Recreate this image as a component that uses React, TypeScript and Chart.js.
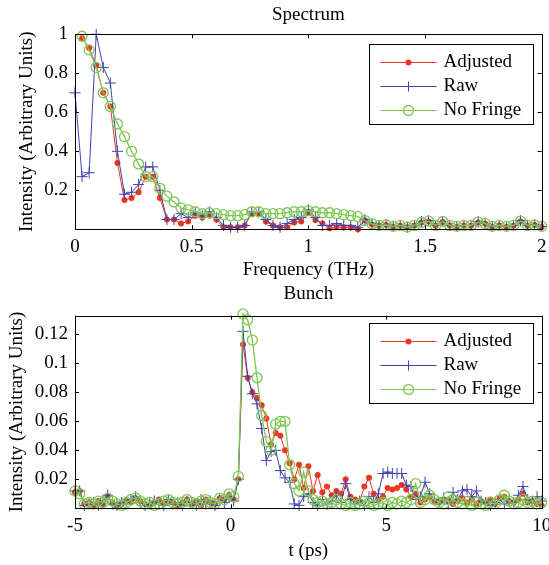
import { useEffect, useRef } from "react";
import { Chart, registerables } from "chart.js";

Chart.register(...registerables);

const SERIF = '"Liberation Serif", "Times New Roman", Times, serif';

const RED = "rgb(238,55,30)";
const BLUE = "rgb(65,65,175)";
const GREEN = "rgb(125,200,85)";

// ---------- Spectrum (frequency grid step in THz) ----------
const specStepTHz = 1 / 33;
const specAdjusted = [null, 0.98, 0.93, 0.84, 0.70, 0.63, 0.34, 0.15, 0.16, 0.19, 0.27, 0.27, 0.16, 0.05, 0.05, 0.03, 0.04, 0.07, 0.06, 0.07, 0.05, 0.01, 0.01, 0.01, 0.02, 0.08, 0.08, 0.04, 0.02, 0.01, 0.01, 0.035, 0.04, 0.085, 0.048, 0.03, 0.005, 0.01, 0.01, 0.01, 0.0, 0.045,
  0.025, 0.018, 0.022, 0.012, 0.018, 0.01, 0.02, 0.035, 0.04, 0.018, 0.038, 0.02, 0.012, 0.02, 0.018, 0.035, 0.028, 0.012, 0.02, 0.012, 0.018, 0.04, 0.018, 0.022, 0.012];
const specRaw = [0.70, 0.27, 0.29, 1.00, 0.83, 0.75, 0.40, 0.18, 0.19, 0.23, 0.32, 0.32, 0.20, 0.05, 0.05, 0.08, 0.06, 0.085, 0.07, 0.09, 0.06, 0.02, 0.01, 0.01, 0.02, 0.09, 0.09, 0.05, 0.02, 0.01, 0.03, 0.05, 0.06, 0.10, 0.06, 0.02, 0.02, 0.03, 0.02, 0.02, 0.01,
  0.05, 0.03, 0.02, 0.025, 0.015, 0.02, 0.01, 0.02, 0.04, 0.045, 0.02, 0.04, 0.02, 0.015, 0.02, 0.02, 0.04, 0.03, 0.015, 0.02, 0.015, 0.02, 0.045, 0.02, 0.025, 0.015];
const specNoFringe = [null, 0.99, 0.92, 0.83, 0.70, 0.63, 0.54, 0.475, 0.40, 0.335, 0.27, 0.27, 0.21, 0.17, 0.14, 0.11, 0.10, 0.09, 0.08, 0.085, 0.08, 0.075, 0.07, 0.07, 0.075, 0.09, 0.09, 0.08, 0.08, 0.08, 0.085, 0.09, 0.09, 0.095, 0.09, 0.085, 0.085, 0.08, 0.075, 0.07, 0.065, 0.045,
  0.028, 0.02, 0.022, 0.015, 0.02, 0.012, 0.02, 0.035, 0.042, 0.02, 0.04, 0.02, 0.015, 0.02, 0.02, 0.037, 0.03, 0.015, 0.02, 0.015, 0.02, 0.042, 0.02, 0.022, 0.015];
const specXTicks = [0, 0.5, 1, 1.5, 2];
const specXTickLabels = ["0", "0.5", "1", "1.5", "2"];
const specYTicks = [0.2, 0.4, 0.6, 0.8, 1];
const specYTickLabels = ["0.2", "0.4", "0.6", "0.8", "1"];

// ---------- Bunch (time grid in ps) ----------
const bunchStart = -5;
const bunchStep = 0.15;
const bunchAdjusted = [0.011, 0.012, 0.003, 0.004, 0.002, 0.005, 0.003, 0.008, 0.004, 0.002, 0.003, 0.005, 0.004, 0.007, 0.005, 0.003, 0.002, 0.004, 0.006, 0.003, 0.005, 0.004, 0.002, 0.004, 0.006, 0.003, 0.005, 0.002, 0.006, 0.004, 0.003, 0.007, 0.006, 0.009,
  0.006, 0.020, 0.113, 0.090, 0.080, 0.076, 0.071, 0.062, 0.044, 0.052, 0.050, 0.040, 0.031, 0.020, 0.030, 0.014, 0.029, 0.012, 0.023, 0.011, 0.015, 0.009, 0.012, 0.010, 0.020, 0.008, 0.006, 0.005, 0.015, 0.021, 0.010, 0.006, 0.008, 0.014, 0.013, 0.014, 0.016, 0.013, 0.008, 0.010, 0.004, 0.006, 0.008, 0.005, 0.004, 0.006, 0.005, 0.003, 0.005, 0.007, 0.004, 0.006, 0.003, 0.005, 0.004, 0.006, 0.003, 0.007, 0.008, 0.005, 0.004, 0.006, 0.010, 0.004, 0.005, 0.003, 0.002];
const bunchRaw = [0.012, 0.012, 0.002, 0.003, 0.004, 0.002, 0.005, 0.009, 0.003, 0.002, 0.004, 0.003, 0.006, 0.008, 0.004, 0.002, 0.003, 0.005, 0.004, 0.002, 0.006, 0.003, 0.004, 0.002, 0.005, 0.004, 0.002, 0.006, 0.003, 0.005, 0.002, 0.006, 0.004, 0.008,
  0.005, 0.020, 0.122, 0.091, 0.079, 0.072, 0.055, 0.033, 0.039, 0.040, 0.026, 0.021, 0.018, 0.003, 0.002, 0.008, 0.010, 0.004, 0.002, 0.006, 0.003, 0.005, 0.009, 0.004, 0.017, 0.006, 0.003, 0.005, 0.002, 0.008, 0.004, 0.010, 0.024, 0.025, 0.024, 0.024, 0.024, 0.016, 0.015, 0.006, 0.008, 0.018, 0.010, 0.006, 0.004, 0.007, 0.003, 0.011, 0.006, 0.012, 0.013, 0.008, 0.012, 0.005, 0.004, 0.002, 0.004, 0.006, 0.003, 0.005, 0.004, 0.009, 0.015, 0.006, 0.004, 0.008, 0.005];
const bunchNoFringe = [0.012, 0.010, 0.003, 0.004, 0.003, 0.005, 0.004, 0.007, 0.005, 0.003, 0.002, 0.004, 0.006, 0.007, 0.005, 0.003, 0.004, 0.002, 0.003, 0.005, 0.006, 0.004, 0.003, 0.004, 0.006, 0.004, 0.003, 0.005, 0.006, 0.004, 0.003, 0.007, 0.006, 0.010,
  0.008, 0.022, 0.134, 0.130, 0.116, 0.090, 0.064, 0.046, 0.040, 0.058, 0.060, 0.060, 0.030, 0.017, 0.012, 0.025, 0.012, 0.006, 0.004, 0.005, 0.003, 0.004, 0.006, 0.003, 0.002, 0.004, 0.002, 0.003, 0.005, 0.004, 0.002, 0.003, 0.004, 0.002, 0.004, 0.003, 0.005, 0.004, 0.006, 0.017, 0.004, 0.006, 0.009, 0.006, 0.004, 0.003, 0.008, 0.006, 0.004, 0.003, 0.005, 0.002, 0.004, 0.003, 0.002, 0.004, 0.003, 0.006, 0.009, 0.005, 0.003, 0.004, 0.006, 0.004, 0.005, 0.003, 0.004];
const bunchXTicks = [-5, 0, 5, 10];
const bunchXTickLabels = ["-5", "0", "5", "10"];
const bunchYTicks = [0.02, 0.04, 0.06, 0.08, 0.1, 0.12];
const bunchYTickLabels = ["0.02", "0.04", "0.06", "0.08", "0.1", "0.12"];

const seriesNames = ["Adjusted", "Raw", "No Fringe"];

const specFreq = specRaw.map((_, i) => i * specStepTHz);
const bunchTime = bunchRaw.map((_, i) => bunchStart + i * bunchStep);

const toPoints = (xs: number[], ys: (number | null)[]) => ys.map((y, i) => ({ x: xs[i], y }));

const framePlugin = {
  id: "frame",
  afterDatasetsDraw(chart: any, _a: any, opts: any) {
    const { ctx, chartArea, scales } = chart;
    const { left, right, top, bottom } = chartArea;
    ctx.save();
    ctx.strokeStyle = "#000";
    ctx.lineWidth = 1;
    ctx.strokeRect(Math.round(left) + 0.5, Math.round(top) + 0.5, Math.round(right) - Math.round(left), Math.round(bottom) - Math.round(top));
    const L = 4;
    ctx.beginPath();
    for (const v of opts.xTicks) {
      const px = Math.round(scales.x.getPixelForValue(v)) + 0.5;
      ctx.moveTo(px, bottom); ctx.lineTo(px, bottom - L);
      ctx.moveTo(px, top); ctx.lineTo(px, top + L);
    }
    for (const v of opts.yTicks) {
      const py = Math.round(scales.y.getPixelForValue(v)) + 0.5;
      ctx.moveTo(left, py); ctx.lineTo(left + L, py);
      ctx.moveTo(right, py); ctx.lineTo(right - L, py);
    }
    ctx.stroke();
    ctx.restore();
  },
};

const legendPlugin = {
  id: "boxLegend",
  afterDraw(chart: any, _a: any, opts: any) {
    const { ctx, chartArea } = chart;
    const w = 164, h = 80;
    const x0 = Math.round(chartArea.right - 8.4 - w) + 0.5;
    const y0 = Math.round(chartArea.top + opts.offsetTop) + 0.5;
    ctx.save();
    ctx.fillStyle = "#fff";
    ctx.fillRect(x0, y0, w, h);
    ctx.strokeStyle = "#000";
    ctx.lineWidth = 1;
    ctx.strokeRect(x0, y0, w, h);
    const styles = [
      { color: RED, kind: "dot" },
      { color: BLUE, kind: "cross" },
      { color: GREEN, kind: "ring" },
    ];
    ctx.font = `19px ${SERIF}`;
    ctx.textBaseline = "middle";
    ctx.textAlign = "left";
    seriesNames.forEach((name, k) => {
      const y = Math.round(y0 + 17 + k * 24) + 0.5;
      const s = styles[k];
      ctx.strokeStyle = s.color;
      ctx.lineWidth = 1;
      ctx.beginPath();
      ctx.moveTo(x0 + 11, y);
      ctx.lineTo(x0 + 67, y);
      ctx.stroke();
      const mx = x0 + 39;
      if (s.kind === "dot") {
        ctx.fillStyle = s.color;
        ctx.beginPath(); ctx.arc(mx, y, 3, 0, Math.PI * 2); ctx.fill();
      } else if (s.kind === "cross") {
        ctx.beginPath();
        ctx.moveTo(mx - 5, y); ctx.lineTo(mx + 5, y);
        ctx.moveTo(mx, y - 5); ctx.lineTo(mx, y + 5);
        ctx.stroke();
      } else {
        ctx.lineWidth = 1.3;
        ctx.beginPath(); ctx.arc(mx, y, 5, 0, Math.PI * 2); ctx.stroke();
      }
      ctx.fillStyle = "#000";
      ctx.fillText(name, x0 + 74, y);
    });
    ctx.restore();
  },
};

function makeConfig(p: any): any {
  const font = { family: SERIF, size: 19, weight: "normal" as const };
  return {
    type: "line",
    data: {
      datasets: [
        {
          label: seriesNames[0], data: toPoints(p.xs, p.adjusted), borderColor: RED, backgroundColor: RED,
          borderWidth: 1, pointStyle: "circle", pointRadius: 3, pointBorderWidth: 0, order: 2,
        },
        {
          label: seriesNames[1], data: toPoints(p.xs, p.raw), borderColor: BLUE, backgroundColor: BLUE,
          borderWidth: 1, pointStyle: "cross", pointRadius: 5.5, pointBorderWidth: 1, order: 1,
        },
        {
          label: seriesNames[2], data: toPoints(p.xs, p.noFringe), borderColor: GREEN, backgroundColor: "rgba(0,0,0,0)",
          borderWidth: 1.3, pointStyle: "circle", pointRadius: 5, pointBorderWidth: 1.3, order: 0,
        },
      ],
    },
    plugins: [framePlugin, legendPlugin],
    options: {
      animation: false,
      responsive: false,
      devicePixelRatio: 1,
      clip: false,
      layout: { padding: { left: 0, right: 7.3, top: p.padTop, bottom: p.padBottom } },
      elements: { line: { tension: 0 } },
      plugins: {
        legend: { display: false },
        tooltip: { enabled: false },
        title: {
          display: true, text: p.title, fullSize: false, color: "#000", font,
          padding: { top: p.titlePadTop, bottom: p.titlePadBottom },
        },
        frame: { xTicks: p.xTicks, yTicks: p.yTicks },
        boxLegend: { offsetTop: p.legendOffset },
      },
      scales: {
        x: {
          type: "linear", min: p.xMin, max: p.xMax,
          grid: { display: false, drawTicks: false }, border: { display: false },
          afterBuildTicks: (s: any) => { s.ticks = p.xTicks.map((v: number) => ({ value: v })); },
          ticks: {
            color: "#000", font, padding: p.xTickPad, maxRotation: 0, autoSkip: false,
            callback: (_v: any, i: number) => p.xTickLabels[i],
          },
          title: { display: true, text: p.xTitle, color: "#000", font, padding: { top: 0, bottom: p.xTitlePad } },
          afterFit: (s: any) => { s.height = p.xAxisHeight; s.paddingLeft = 0; s.paddingRight = 0; },
        },
        y: {
          type: "linear", min: p.yMin, max: p.yMax,
          grid: { display: false, drawTicks: false }, border: { display: false },
          afterBuildTicks: (s: any) => { s.ticks = p.yTicks.map((v: number) => ({ value: v })); },
          ticks: {
            color: "#000", font, padding: 7, autoSkip: false,
            callback: (_v: any, i: number) => p.yTickLabels[i],
          },
          title: { display: true, text: "Intensity (Arbitrary Units)", color: "#000", font, padding: { top: p.yTitlePad, bottom: 0 } },
          afterFit: (s: any) => { s.width = 75; s.paddingTop = 0; s.paddingBottom = 0; },
        },
      },
    },
  };
}

export default function App() {
  const topRef = useRef<HTMLCanvasElement>(null);
  const botRef = useRef<HTMLCanvasElement>(null);

  useEffect(() => {
    const c1 = new Chart(topRef.current as HTMLCanvasElement, makeConfig({
      xs: specFreq, adjusted: specAdjusted, raw: specRaw, noFringe: specNoFringe,
      title: "Spectrum", xTitle: "Frequency (THz)",
      xMin: 0, xMax: 2, yMin: 0, yMax: 1,
      xTicks: specXTicks, xTickLabels: specXTickLabels, yTicks: specYTicks, yTickLabels: specYTickLabels,
      padTop: 0, padBottom: 282, titlePadTop: 3.5, titlePadBottom: 8,
      xAxisHeight: 53.7, xTickPad: 6, xTitlePad: 1.6, yTitlePad: 15.6, legendOffset: 10,
    }));
    const c2 = new Chart(botRef.current as HTMLCanvasElement, makeConfig({
      xs: bunchTime, adjusted: bunchAdjusted, raw: bunchRaw, noFringe: bunchNoFringe,
      title: "Bunch", xTitle: "t (ps)",
      xMin: -5, xMax: 10, yMin: 0, yMax: 0.1328,
      xTicks: bunchXTicks, xTickLabels: bunchXTickLabels, yTicks: bunchYTicks, yTickLabels: bunchYTickLabels,
      padTop: 280, padBottom: 0, titlePadTop: 2.6, titlePadBottom: 10.3,
      xAxisHeight: 56.7, xTickPad: 6, xTitlePad: 2.6, yTitlePad: 6, legendOffset: 7.6,
    }));
    return () => { c1.destroy(); c2.destroy(); };
  }, []);

  const canvasStyle: any = { position: "absolute", left: 0, top: 0, width: 549, height: 565 };
  return (
    <div style={{ position: "fixed", left: 0, top: 0, width: 549, height: 565, background: "#fff" }}>
      <canvas ref={topRef} width={549} height={565} style={canvasStyle} />
      <canvas ref={botRef} width={549} height={565} style={canvasStyle} />
    </div>
  );
}
